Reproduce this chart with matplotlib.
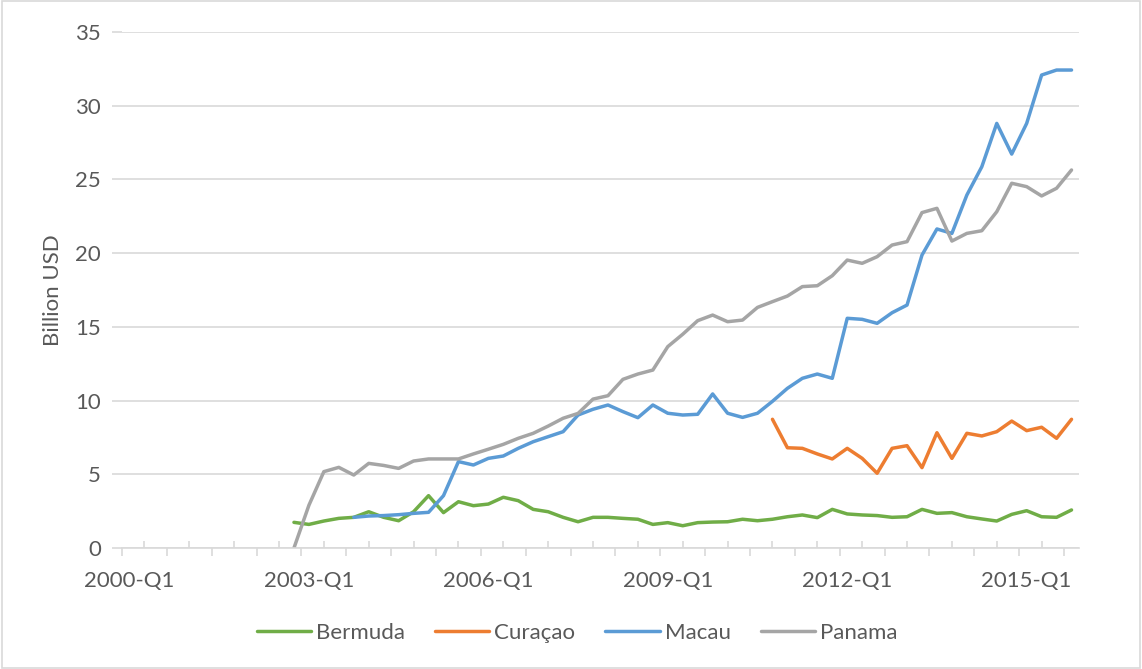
import numpy as np
import matplotlib
matplotlib.use("Agg")
import matplotlib.pyplot as plt
from matplotlib.patches import Rectangle

plt.rcParams['font.family'] = ['Lato', 'DejaVu Sans']

# quarters 2000-Q1 .. 2015-Q4
quarters = ['%d-Q%d' % (y, q) for y in range(2000, 2016) for q in range(1, 5)]
tick_labels = ['2000-Q1', '2003-Q1', '2006-Q1', '2009-Q1', '2012-Q1', '2015-Q1']

# series values (Billion USD), each starting at the quarter given
bermuda_start = '2002-Q4'
bermuda = [1.74, 1.60, 1.83, 2.01, 2.08, 2.46, 2.08, 1.85, 2.46, 3.55,
           2.40, 3.14, 2.87, 2.98, 3.44, 3.21, 2.62, 2.46, 2.08, 1.78,
           2.08, 2.08, 2.01, 1.95, 1.60, 1.72, 1.51, 1.72, 1.76, 1.78,
           1.95, 1.85, 1.95, 2.12, 2.24, 2.06, 2.62, 2.31, 2.24, 2.20,
           2.08, 2.12, 2.62, 2.35, 2.40, 2.12, 1.97, 1.83, 2.28, 2.53,
           2.12, 2.08, 2.58]

curacao_start = '2010-Q4'
curacao = [8.73, 6.80, 6.76, 6.38, 6.04, 6.76, 6.08, 5.07, 6.76, 6.94,
           5.45, 7.82, 6.08, 7.78, 7.60, 7.89, 8.61, 7.96, 8.19, 7.44,
           8.73]

macau_start = '2003-Q4'
macau = [2.08, 2.17, 2.20, 2.26, 2.35, 2.42, 3.55, 5.86, 5.63, 6.08,
         6.24, 6.76, 7.21, 7.55, 7.89, 9.02, 9.41, 9.70, 9.25, 8.84,
         9.70, 9.14, 9.02, 9.07, 10.45, 9.14, 8.86, 9.14, 9.95, 10.83,
         11.51, 11.80, 11.51, 15.58, 15.51, 15.24, 15.96, 16.48, 19.87, 21.64,
         21.34, 23.94, 25.86, 28.80, 26.72, 28.80, 32.08, 32.42, 32.42]

panama_start = '2002-Q4'
panama = [0.00, 2.90, 5.18, 5.47, 4.95, 5.74, 5.60, 5.40, 5.90, 6.04,
          6.04, 6.04, 6.38, 6.70, 7.03, 7.44, 7.78, 8.27, 8.80, 9.13,
          10.10, 10.33, 11.44, 11.80, 12.07, 13.66, 14.50, 15.42, 15.80, 15.35,
          15.46, 16.32, 16.71, 17.09, 17.73, 17.79, 18.47, 19.53, 19.31, 19.76,
          20.55, 20.78, 22.75, 23.04, 20.82, 21.34, 21.52, 22.81, 24.74, 24.51,
          23.88, 24.40, 25.64]

series = [('Bermuda', bermuda_start, bermuda, '#70AD47'),
          ('Curaçao', curacao_start, curacao, '#ED7D31'),
          ('Macau', macau_start, macau, '#5B9BD5'),
          ('Panama', panama_start, panama, '#A5A5A5')]

text_col = '#595959'
grid_col = '#D9D9D9'
fs = 16

fig = plt.figure(figsize=(11.42, 6.69), dpi=100)
ax = fig.add_axes([122 / 1142, 121 / 669, 957 / 1142, 516 / 669])

x = np.arange(len(quarters))
for name, start, vals, col in series:
    y = np.full(len(quarters), np.nan)
    i0 = quarters.index(start)
    y[i0:i0 + len(vals)] = vals
    ax.plot(x, y, color=col, lw=2.5, label=name, solid_capstyle='round',
            solid_joinstyle='round')

ax.set_xlim(-0.5, len(quarters) - 0.5)
ax.set_ylim(0, 35)
ax.set_yticks(np.arange(0, 36, 5))
ax.yaxis.grid(True, color=grid_col, lw=1.2)
ax.set_axisbelow(True)
for s in ['top', 'right', 'left']:
    ax.spines[s].set_visible(False)
ax.spines['bottom'].set_color(grid_col)
ax.spines['bottom'].set_linewidth(1.2)

ax.tick_params(axis='y', length=7, width=1.2, color=grid_col, labelsize=fs,
               labelcolor=text_col, pad=8)
ax.set_xticks(np.arange(-0.5, len(quarters), 3))
ax.set_xticks(np.arange(1.0, len(quarters), 3), minor=True)
ax.tick_params(axis='x', which='major', direction='out', length=6, width=1.2,
               color=grid_col, labelbottom=False)
ax.tick_params(axis='x', which='minor', direction='in', length=5, width=1.2,
               color=grid_col, labelbottom=False)

for lab in tick_labels:
    ax.text(quarters.index(lab), -0.0634, lab, transform=ax.get_xaxis_transform(),
            ha='center', va='center', fontsize=fs, color=text_col)

ax.set_ylabel('Billion USD', fontsize=fs, color=text_col, va='center')
ax.yaxis.set_label_coords(-69 / 957, 0.5)

fig.legend(loc='center', bbox_to_anchor=(577 / 1142, 1 - 633 / 669), ncol=4,
           frameon=False, fontsize=fs, handlelength=2.45, handletextpad=0.22,
           columnspacing=1.35, labelcolor=text_col)

fig.patches.append(Rectangle((0.0015, 0.002), 0.997, 0.996, transform=fig.transFigure,
                             fill=False, edgecolor=grid_col, lw=1.2))

fig.savefig('out.png', dpi=100)
